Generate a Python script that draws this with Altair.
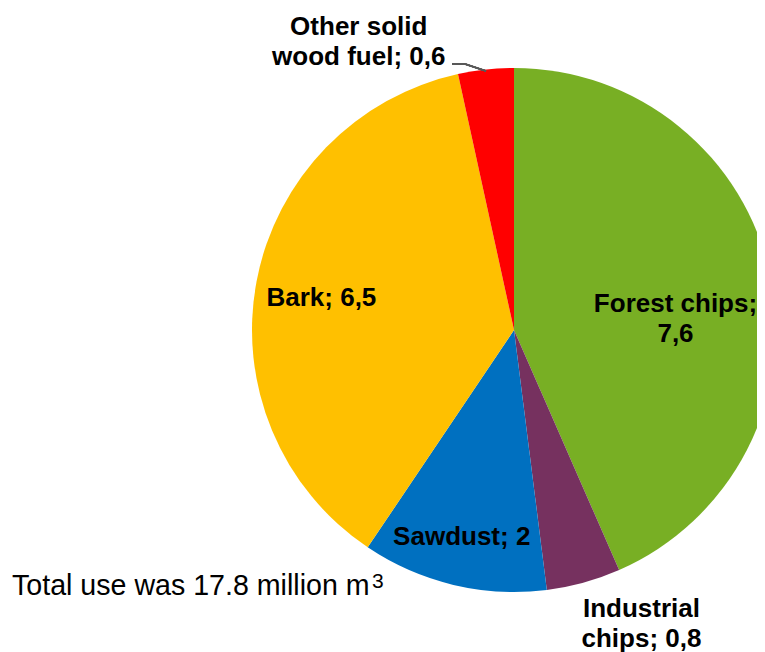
import altair as alt
import pandas as pd
import math

categories = ["Forest chips", "Industrial chips", "Sawdust", "Bark", "Other solid wood fuel"]
values = [7.6, 0.8, 2.0, 6.5, 0.6]
value_labels = ["7,6", "0,8", "2", "6,5", "0,6"]
colors = ["#78AF24", "#76315F", "#0070C0", "#FFC000", "#FF0000"]
label_text = [
    "Forest chips;\n7,6",
    "Industrial\nchips; 0,8",
    "Sawdust; 2",
    "Bark; 6,5",
    "Other solid\nwood fuel; 0,6",
]
total_note = "Total use was 17.8 million m"
total_sup = "3"

df = pd.DataFrame({
    "category": categories,
    "value": values,
    "idx": list(range(len(categories))),
    "label": label_text,
})

CX, CY = 506, 322
R = 262
TWO_PI = 2 * math.pi

base = alt.Chart(df).transform_joinaggregate(
    total="sum(value)"
).transform_window(
    cum="sum(value)", sort=[alt.SortField("idx", order="ascending")]
).transform_calculate(
    start=f"(datum.cum - datum.value) / datum.total * {TWO_PI}",
    end=f"datum.cum / datum.total * {TWO_PI}",
).transform_calculate(
    mid="(datum.start + datum.end) / 2"
)

arcs = base.mark_arc(outerRadius=R, x=CX, y=CY).encode(
    theta=alt.Theta("start:Q", scale=None),
    theta2="end:Q",
    color=alt.Color("category:N", scale=alt.Scale(domain=categories, range=colors), legend=None),
)

label_pos = {
    "Forest chips": dict(radius=165, dx=0, dy=8),
    "Industrial chips": dict(radius=310, dx=45, dy=-20),
    "Sawdust": dict(radius=213, dx=-3, dy=0),
    "Bark": dict(radius=192, dx=-4, dy=4),
    "Other solid wood fuel": dict(radius=300, dx=-123, dy=-5),
}

text_layers = []
for cat in categories:
    p = label_pos[cat]
    t = base.transform_filter(alt.datum.category == cat).mark_text(
        x=CX, y=CY, radius=p["radius"], dx=p["dx"], dy=p["dy"],
        font="Liberation Sans", fontSize=26, fontWeight="bold",
        color="#000000", align="center", baseline="middle",
        lineBreak="\n", lineHeight=30,
    ).encode(
        theta=alt.Theta("mid:Q", scale=None),
        text="label:N",
    )
    text_layers.append(t)

leader1 = alt.Chart(df).mark_rule(color="#595959", strokeWidth=1.5).encode(
    x=alt.value(444), x2=alt.value(457), y=alt.value(56), y2=alt.value(56)
)
leader2 = alt.Chart(df).mark_rule(color="#595959", strokeWidth=1.5).encode(
    x=alt.value(457), x2=alt.value(478), y=alt.value(56), y2=alt.value(63)
)

note = alt.Chart(pd.DataFrame({"t": [total_note]})).mark_text(
    font="Liberation Sans", fontSize=28.6, color="#000000", align="left", baseline="alphabetic"
).encode(
    x=alt.value(4), y=alt.value(587), text="t:N"
)
note_sup = alt.Chart(pd.DataFrame({"t": [total_sup]})).mark_text(
    font="Liberation Sans", fontSize=21, color="#000000", align="left", baseline="alphabetic"
).encode(
    x=alt.value(364), y=alt.value(580), text="t:N"
)

chart = alt.layer(arcs, *text_layers, leader1, leader2, note, note_sup).properties(
    width=749, height=644,
    autosize=alt.AutoSizeParams(type="none"),
    padding=0,
).configure_view(stroke=None)

chart.save("out.html", embed_options={"renderer": "svg", "actions": False})
